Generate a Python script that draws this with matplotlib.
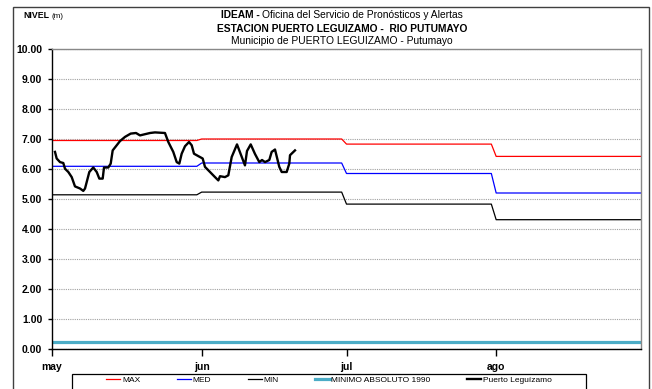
import matplotlib
matplotlib.use('Agg')
import matplotlib.pyplot as plt
import numpy as np
from matplotlib.patches import Rectangle
from matplotlib.lines import Line2D

plt.rcParams['font.family'] = ['Liberation Sans', 'DejaVu Sans']

# ---------------- data ----------------
meses = ['may', 'jun', 'jul', 'ago']
dias_mes = [31, 30, 31, 31]
nivel_max = [6.95, 7.00, 6.83, 6.42]
nivel_med = [6.09, 6.20, 5.85, 5.20]
nivel_min = [5.14, 5.23, 4.83, 4.31]
minimo_absoluto_1990 = 0.25

# observed levels (days since 1 May)
dias_obs = [0.62, 0.97, 1.66, 2.34, 2.69, 3.38, 4.08, 4.76, 5.80, 6.48, 6.84, 7.73, 8.55, 9.26,
            9.80, 10.50, 10.77, 11.66, 12.16, 12.57, 13.40, 14.08, 15.12, 16.30, 17.40, 18.23,
            19.26, 20.30, 21.33, 22.37, 23.40, 24.09, 25.12, 25.83, 26.37, 26.86, 27.55, 28.38,
            28.94, 29.41, 30.30, 31.21, 31.69, 32.73, 33.76, 34.45, 34.80, 35.83, 36.52, 37.22,
            38.32, 39.97, 40.39, 41.16, 42.05, 42.94, 43.50, 44.12, 45.01, 45.50, 46.19, 47.08,
            47.58, 48.61, 49.15, 49.30, 50.33]
nivel_obs = [6.57, 6.35, 6.23, 6.20, 6.01, 5.90, 5.73, 5.42, 5.35, 5.27, 5.35, 5.90, 6.05, 5.90,
             5.68, 5.68, 6.05, 6.05, 6.18, 6.62, 6.79, 6.93, 7.07, 7.18, 7.20, 7.12,
             7.16, 7.20, 7.22, 7.21, 7.20, 6.90, 6.57, 6.23, 6.18, 6.51, 6.76, 6.90,
             6.79, 6.51, 6.43, 6.35, 6.07, 5.90, 5.73, 5.62, 5.76, 5.73, 5.79, 6.40,
             6.82, 6.12, 6.60, 6.82, 6.50, 6.23, 6.30, 6.23, 6.30, 6.57, 6.65, 6.07,
             5.90, 5.90, 6.18, 6.46, 6.62]

y_ticks = np.arange(0, 10.01, 1.0)

# ---------------- figure ----------------
W, H = 652, 389
fig = plt.figure(figsize=(W / 100, H / 100), dpi=100)
ax = fig.add_axes([52 / W, 1 - 349 / H, 589 / W, 300 / H])

n_dias = sum(dias_mes)
dias = np.arange(n_dias)
inicio_mes = np.concatenate([[0], np.cumsum(dias_mes)[:-1]])

ax.plot(dias, np.full(n_dias, minimo_absoluto_1990), color='#4BACC6', lw=2.3, solid_capstyle='butt')
ax.plot(dias, np.repeat(nivel_min, dias_mes), color='#000000', lw=0.9)
ax.plot(dias, np.repeat(nivel_med, dias_mes), color='#0000FF', lw=0.9)
ax.plot(dias, np.repeat(nivel_max, dias_mes), color='#FF0000', lw=0.9)
ax.plot(dias_obs, nivel_obs, color='#000000', lw=1.7, solid_joinstyle='round')

ax.set_xlim(0, n_dias - 1)
ax.set_ylim(0, 10)
ax.set_yticks(y_ticks)
ax.set_yticklabels([f'{v:.2f}' for v in y_ticks], fontweight='bold')
ax.set_xticks(inicio_mes)
ax.set_xticklabels(meses, fontweight='bold')
ax.tick_params(axis='y', direction='out', length=3, width=1, pad=4, labelsize=7.5)
ax.tick_params(axis='x', direction='out', length=5, width=1, pad=4, labelsize=7.5)

ax.yaxis.grid(True, color='#a0a0a0', linestyle=(0, (1, 1)), lw=0.8)
ax.set_axisbelow(True)
for s in ['left', 'bottom']:
    ax.spines[s].set_color('black')
    ax.spines[s].set_linewidth(1)
for s in ['top', 'right']:
    ax.spines[s].set_color('#888888')
    ax.spines[s].set_linewidth(1)

# ---------------- titles ----------------
r = fig.canvas.get_renderer()
cx = 342
fs_t = 7.4
y1 = 1 - 15 / H
ta = fig.text(0, y1, 'IDEAM -', fontsize=fs_t, fontweight='bold', va='center')
tb = fig.text(0, y1, 'Oficina del Servicio de Pronósticos y Alertas', fontsize=fs_t, va='center')
wa = ta.get_window_extent(r).width
wb = tb.get_window_extent(r).width
gap = 3
x0 = cx - (wa + gap + wb) / 2
ta.set_x(x0 / W)
tb.set_x((x0 + wa + gap) / W)
fig.text(cx / W, 1 - 28.5 / H, 'ESTACION PUERTO LEGUIZAMO -  RIO PUTUMAYO', fontsize=fs_t,
         fontweight='bold', ha='center', va='center')
fig.text(cx / W, 1 - 41.5 / H, 'Municipio de PUERTO LEGUIZAMO - Putumayo', fontsize=fs_t,
         ha='center', va='center')

tn = fig.text(23 / W, 1 - 16 / H, 'NIVEL', fontsize=6.3, fontweight='bold', va='center')
wn = tn.get_window_extent(r).width
fig.text((23 + wn + 2) / W, 1 - 16 / H, '(m)', fontsize=5.8, va='center')

# ---------------- frame & legend ----------------
fig.patches.append(Rectangle((13 / W, -0.1), (649 - 13) / W, (1 - 6.5 / H) + 0.1,
                             transform=fig.transFigure, fill=False, edgecolor='#404040', lw=1))
fig.patches.append(Rectangle((72 / W, -0.1), 514 / W, (1 - 374 / H) + 0.1,
                             transform=fig.transFigure, fill=False, edgecolor='black', lw=0.9))

handles = [Line2D([], [], color='#FF0000', lw=0.9),
           Line2D([], [], color='#0000FF', lw=0.9),
           Line2D([], [], color='#000000', lw=0.9),
           Line2D([], [], color='#4BACC6', lw=2.3),
           Line2D([], [], color='#000000', lw=1.7)]
labels = ['MAX', 'MED', 'MIN', 'MINIMO ABSOLUTO 1990', 'Puerto Leguízamo']
fig.legend(handles, labels, ncol=5, frameon=False, loc='upper center',
           bbox_to_anchor=(329 / W, 1 - 374 / H), fontsize=6, handlelength=1.7,
           handletextpad=0.2, columnspacing=4.4, borderpad=0.2, borderaxespad=0)

fig.savefig('out.png', dpi=100)
